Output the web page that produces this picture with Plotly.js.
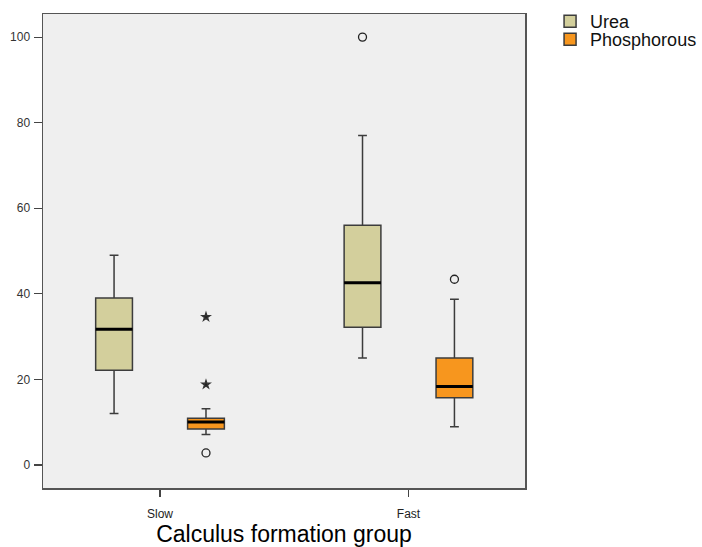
<!DOCTYPE html>
<html>
<head>
<meta charset="utf-8">
<script src="https://cdn.plot.ly/plotly-3.0.1.min.js"></script>
<style>html,body{margin:0;padding:0;background:#fff;}#chart{width:702px;height:547px;}</style>
</head>
<body>
<div id="chart"></div>
<script>
// ---- data ----
const groups = ['Slow', 'Fast'];

const ureaLower  = [12.0, 25.0];
const ureaQ1     = [22.1, 32.2];
const ureaMedian = [31.7, 42.6];
const ureaQ3     = [39.0, 56.0];
const ureaUpper  = [49.0, 77.0];

const phosLower  = [7.1, 8.9];
const phosQ1     = [8.4, 15.7];
const phosMedian = [10.0, 18.3];
const phosQ3     = [10.9, 25.0];
const phosUpper  = [13.1, 38.7];

// outliers (circles) and extreme values (stars)
const ureaOutlierGroup = ['Fast'];
const ureaOutlierValue = [100.0];
const phosOutlierGroup = ['Slow', 'Fast'];
const phosOutlierValue = [2.8, 43.4];
const phosExtremeGroup = ['Slow', 'Slow'];
const phosExtremeValue = [34.6, 18.8];

const seriesNames = ['Urea', 'Phosphorous'];
const tickText = ['Slow', 'Fast'];
const xTitle = 'Calculus formation group';

// ---- styles ----
const ureaFill = '#d3cf9c';
const phosFill = '#f7961e';
const edge = '#3c3c3c';

function mainBox(name, og, fill, lo, q1, med, q3, hi, legendId) {
  return {
    type: 'box', name: name, x: groups, offsetgroup: og, alignmentgroup: 'g',
    lowerfence: lo, q1: q1, median: med, q3: q3, upperfence: hi,
    fillcolor: fill, line: {color: edge, width: 1.5}, whiskerwidth: 0.24,
    boxpoints: false, showlegend: true, legend: legendId, hoverinfo: 'skip'
  };
}
function medianLine(og, med) {
  return {
    type: 'box', x: groups, offsetgroup: og, alignmentgroup: 'g',
    lowerfence: med, q1: med, median: med, q3: med, upperfence: med,
    fillcolor: 'rgba(0,0,0,0)', line: {color: '#000', width: 3}, whiskerwidth: 0,
    boxpoints: false, showlegend: false, hoverinfo: 'skip'
  };
}
function points(og, gx, gy, symbol, size) {
  return {
    type: 'box', x: gx, y: gy, offsetgroup: og, alignmentgroup: 'g',
    boxpoints: 'all', pointpos: 0, jitter: 0,
    fillcolor: 'rgba(0,0,0,0)', line: {color: 'rgba(0,0,0,0)', width: 0},
    marker: {symbol: symbol, size: size, color: '#222', line: {color: '#333', width: 1.3}},
    showlegend: false, hoverinfo: 'skip'
  };
}

const data = [
  mainBox(seriesNames[0], 'u', ureaFill, ureaLower, ureaQ1, ureaMedian, ureaQ3, ureaUpper, 'legend'),
  mainBox(seriesNames[1], 'p', phosFill, phosLower, phosQ1, phosMedian, phosQ3, phosUpper, 'legend2'),
  medianLine('u', ureaMedian),
  medianLine('p', phosMedian),
  points('u', ureaOutlierGroup, ureaOutlierValue, 'circle-open', 8),
  points('p', phosOutlierGroup, phosOutlierValue, 'circle-open', 8),
  points('p', phosExtremeGroup, phosExtremeValue, 'star', 6)
];

const legendStyle = {xanchor: 'left', yanchor: 'top', font: {size: 18, color: '#111'},
                     bgcolor: 'rgba(0,0,0,0)', tracegroupgap: 0};

const layout = {
  width: 702, height: 547,
  margin: {l: 43, r: 177, t: 14, b: 59, autoexpand: false},
  paper_bgcolor: '#ffffff',
  plot_bgcolor: '#efefef',
  boxmode: 'group', boxgap: 0.26, boxgroupgap: 0.6,
  font: {family: 'Liberation Sans, Arial, sans-serif', color: '#222'},
  showlegend: true,
  legend: Object.assign({x: 1.052, y: 1.023}, legendStyle),
  legend2: Object.assign({x: 1.052, y: 0.985}, legendStyle),
  xaxis: {
    type: 'category', categoryorder: 'array', categoryarray: groups,
    tickvals: groups, ticktext: tickText,
    range: [-0.471, 1.469], showgrid: false, zeroline: false,
    showline: true, mirror: true, linecolor: '#555', linewidth: 1.5,
    ticks: 'outside', ticklen: 7, tickcolor: '#444', tickwidth: 1.2,
    tickfont: {size: 12, color: '#222'}, ticklabelstandoff: 7,
    title: {text: xTitle, font: {size: 23, color: '#000'}, standoff: 9}
  },
  yaxis: {
    range: [-5.4, 105.4], tickvals: [0, 20, 40, 60, 80, 100],
    showgrid: false, zeroline: false,
    showline: true, mirror: true, linecolor: '#555', linewidth: 1.5,
    ticks: 'outside', ticklen: 8, tickcolor: '#444', tickwidth: 1.2,
    tickfont: {size: 12, color: '#333'}, ticklabelstandoff: 1
  }
};

Plotly.newPlot('chart', data, layout, {displayModeBar: false, staticPlot: true});
</script>
</body>
</html>
